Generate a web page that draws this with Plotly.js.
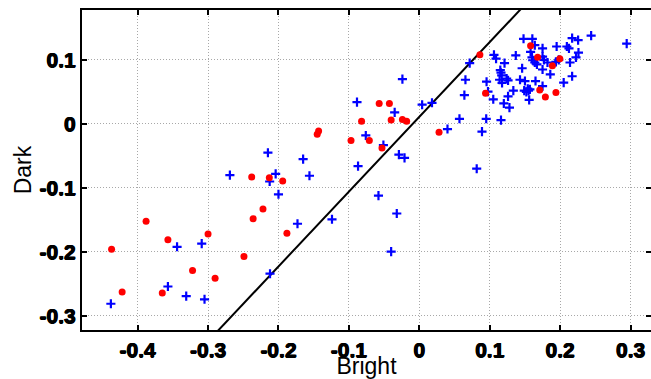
<!DOCTYPE html>
<html>
<head>
<meta charset="utf-8">
<script src="https://cdn.plot.ly/plotly-3.0.1.min.js"></script>
<style>html,body{margin:0;padding:0;background:#fff;}#chart{width:651px;height:379px;}</style>
</head>
<body>
<div id="chart"></div>
<script>
const blueX = [-0.438,-0.357,-0.344,-0.331,-0.309,-0.305,-0.269,-0.215,-0.2125,-0.204,
  -0.200,-0.212,-0.173,-0.165,-0.156,-0.124,-0.0885,-0.087,-0.076,-0.058,
  -0.051,-0.035,-0.032,-0.040,-0.029,-0.024,-0.021,0.004,0.018,0.040,
  0.057,0.064,0.0655,0.0715,0.0815,0.089,0.095,0.0955,0.0975,0.105,
  0.106,0.109,0.116,0.115,0.116,0.117,0.114,0.1175,0.121,0.120,
  0.124,0.126,0.126,0.128,0.1335,0.137,0.143,0.146,0.148,0.150,
  0.149,0.154,0.155,0.157,0.152,0.156,0.1605,0.164,0.158,0.160,
  0.161,0.164,0.167,0.165,0.175,0.175,0.177,0.182,0.175,0.175,
  0.186,0.195,0.194,0.198,0.205,0.2095,0.2125,0.214,0.217,0.217,
  0.2225,0.2255,0.226,0.244,0.2945];
const blueY = [-0.281,-0.254,-0.192,-0.269,-0.187,-0.274,-0.080,-0.045,-0.090,-0.078,
  -0.110,-0.234,-0.156,-0.055,-0.081,-0.149,0.034,-0.066,-0.018,-0.112,
  -0.033,0.018,-0.140,-0.1995,-0.048,0.070,-0.053,0.030,0.033,-0.008,
  0.008,0.045,0.069,0.095,-0.070,-0.012,0.008,0.066,0.0505,0.0385,
  0.108,0.102,0.006,0.084,0.080,0.076,0.069,0.064,0.095,0.032,
  0.071,0.068,0.043,0.0255,0.052,0.107,0.069,0.087,0.133,0.067,
  0.052,0.055,0.052,0.054,0.050,0.0375,0.133,0.123,0.1125,0.104,
  0.0995,0.096,0.093,0.067,0.118,0.105,0.100,0.096,0.085,0.059,
  0.0775,0.121,0.097,0.100,0.0645,0.121,0.118,0.096,0.134,0.0745,
  0.104,0.131,0.1115,0.138,0.1255];
const redX = [-0.437,-0.422,-0.388,-0.365,-0.357,-0.322,-0.300,-0.290,-0.249,-0.238,
  -0.236,-0.222,-0.213,-0.194,-0.188,-0.145,-0.143,-0.097,-0.082,-0.071,
  -0.057,-0.053,-0.0425,-0.040,-0.024,-0.018,0.028,0.086,0.094,0.158,
  0.168,0.171,0.179,0.189,0.194,0.1995];
const redY = [-0.196,-0.2625,-0.152,-0.264,-0.181,-0.229,-0.172,-0.241,-0.207,-0.083,
  -0.148,-0.133,-0.084,-0.089,-0.171,-0.016,-0.011,-0.026,0.004,-0.026,
  0.032,-0.0375,0.032,0.006,0.007,0.004,-0.013,0.108,0.048,0.122,
  0.104,0.053,0.042,0.091,0.049,0.102];
const fitX = [-0.30, 0.16];
const fitY = [-0.3396, 0.198];
const xTickVals = [-0.4,-0.3,-0.2,-0.1,0,0.1,0.2,0.3];
const xTickText = ['-0.4','-0.3','-0.2','-0.1','0','0.1','0.2','0.3'];
const yTickVals = [-0.3,-0.2,-0.1,0,0.1];
const yTickText = ['-0.3','-0.2','-0.1','0','0.1'];

const traces = [
  {x: fitX, y: fitY, type: 'scatter', mode: 'lines', line: {color: '#000', width: 2}, hoverinfo: 'skip'},
  {x: blueX, y: blueY, type: 'scatter', mode: 'markers',
   marker: {symbol: 'cross-thin-open', size: 6.5, color: '#0000ff', line: {color: '#0000ff', width: 2.2}}},
  {x: redX, y: redY, type: 'scatter', mode: 'markers',
   marker: {symbol: 'circle', size: 7, color: '#ff0000', line: {width: 0}}}
];
const tickFont = {family: 'Liberation Sans, Arial, sans-serif', size: 21, color: '#000', weight: 700,
  shadow: '0.5px 0 0 #000, -0.5px 0 0 #000, 0 0.5px 0 #000'};
const axisCommon = {
  showline: true, linecolor: '#000', linewidth: 2, mirror: 'ticks',
  ticks: 'inside', ticklen: 5, tickwidth: 2, tickcolor: '#000',
  showgrid: true, gridcolor: '#a8a8a8', gridwidth: 1, griddash: '1px,2px',
  zeroline: false, tickfont: tickFont
};
const layout = {
  width: 651, height: 379,
  margin: {l: 82, r: 0, t: 10, b: 49},
  showlegend: false,
  paper_bgcolor: '#fff', plot_bgcolor: '#fff',
  xaxis: Object.assign({}, axisCommon, {
    range: [-0.479, 0.329], tickmode: 'array', tickvals: xTickVals, ticktext: xTickText,
    title: {text: 'Bright', font: {family: 'Liberation Sans, Arial, sans-serif', size: 23, color: '#000'}, standoff: 0}
  }),
  yaxis: Object.assign({}, axisCommon, {
    range: [-0.322, 0.178], tickmode: 'array', tickvals: yTickVals, ticktext: yTickText,
    title: {text: 'Dark', font: {family: 'Liberation Sans, Arial, sans-serif', size: 23, color: '#000'}, standoff: 2}
  })
};
Plotly.newPlot('chart', traces, layout, {staticPlot: true, displayModeBar: false});
</script>
</body>
</html>
